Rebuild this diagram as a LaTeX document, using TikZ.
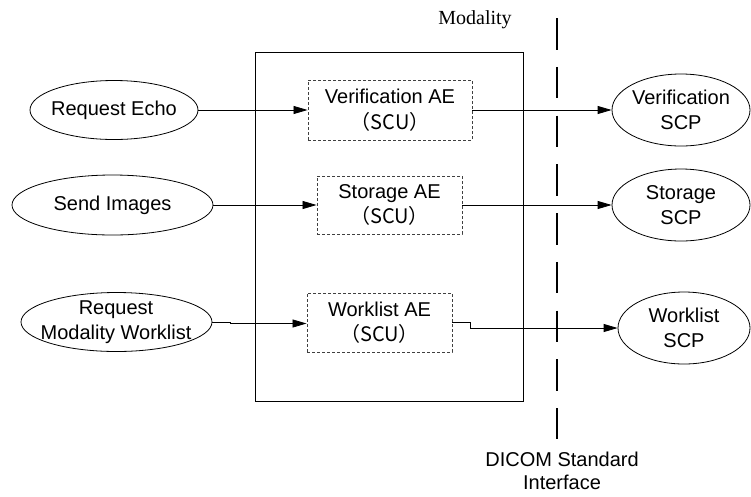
\documentclass[tikz,border=0pt]{standalone}
\usepackage{fontspec}
\setmainfont{Liberation Sans}
\newfontfamily\seriffont{Liberation Serif}
\newfontfamily\cjk{Noto Sans CJK SC}
\usetikzlibrary{shapes.geometric,arrows.meta}
\begin{document}
\begin{tikzpicture}[x=1pt,y=-1pt,
  every node/.style={font=\fontsize{20}{25.5}\selectfont},
  usecase/.style={draw, ellipse, inner sep=0pt, line width=0.8pt},
  txt/.style={align=center, inner sep=0pt},
  aebox/.style={draw=black!75, dashed, dash pattern=on 3pt off 2pt, line width=0.9pt,
                inner sep=0pt, align=center},
  flow/.style={line width=0.8pt, -{Triangle[length=14pt,width=8pt]}},
  plain/.style={line width=0.8pt}]
\useasboundingbox (0,0) rectangle (751,496);

% modality frame and its caption
\node[draw, line width=0.8pt, minimum width=268pt, minimum height=349pt, inner sep=0pt] (modbox) at (389,226.5) {};
\node[txt, font=\seriffont\fontsize{20}{24}\selectfont] (modlabel) at (475,20) {Modality};

% standard interface boundary
\coordinate (dtop) at (557,18);
\coordinate (dbot) at (557,439);
\draw[line width=2pt, dash pattern=on 31.5pt off 17.25pt] (dtop) -- (dbot);
\node[txt, font=\fontsize{20}{23}\selectfont] (dicom) at (562,471) {DICOM Standard\\Interface};

% local requests
\node[usecase, minimum width=168pt, minimum height=59pt] (echo) at (114,110) {};
\node[txt] (echo-t) at (echo) {Request Echo};
\node[usecase, minimum width=201pt, minimum height=60pt] (send) at (112.5,205) {};
\node[txt] (send-t) at (send) {Send Images};
\node[usecase, minimum width=191pt, minimum height=59pt] (rmw) at (116.5,322) {};
\node[txt] (rmw-t) at (116,322) {Request\\Modality Worklist};

% application entities
\node[aebox, minimum width=164pt, minimum height=60pt] (vae) at (390,110) {Verification AE\\\cjk{（}SCU\cjk{）}};
\node[aebox, minimum width=145pt, minimum height=58pt] (sae) at (389.5,205) {Storage AE\\\cjk{（}SCU\cjk{）}};
\node[aebox, minimum width=145pt, minimum height=59pt] (wae) at (379.5,322.5) {Worklist AE\\\cjk{（}SCU\cjk{）}};

% remote service providers
\node[usecase, minimum width=138pt, minimum height=72pt] (vscp) at (681,110) {};
\node[txt] (vscp-t) at (vscp) {Verification\\SCP};
\node[usecase, minimum width=138pt, minimum height=72pt] (sscp) at (681,205) {};
\node[txt] (sscp-t) at (sscp) {Storage\\SCP};
\node[usecase, minimum width=132pt, minimum height=72pt] (wscp) at (684,328) {};
\node[txt] (wscp-t) at (wscp) {Worklist\\SCP};

% connectors
\draw[flow] (echo.east) -- (echo.east -| vae.west);
\draw[flow] (send.east) -- (send.east -| sae.west);
\draw[flow] (rmw.east) -- ++(18,0) |- ([yshift=-1pt]wae.west);
\draw[flow] (vae.east |- vscp.west) -- (vscp.west);
\draw[flow] (sae.east |- sscp.west) -- (sscp.west);
\draw[flow] (wae.east) -- ++(18,0) |- (wscp.west);
\end{tikzpicture}
\end{document}
